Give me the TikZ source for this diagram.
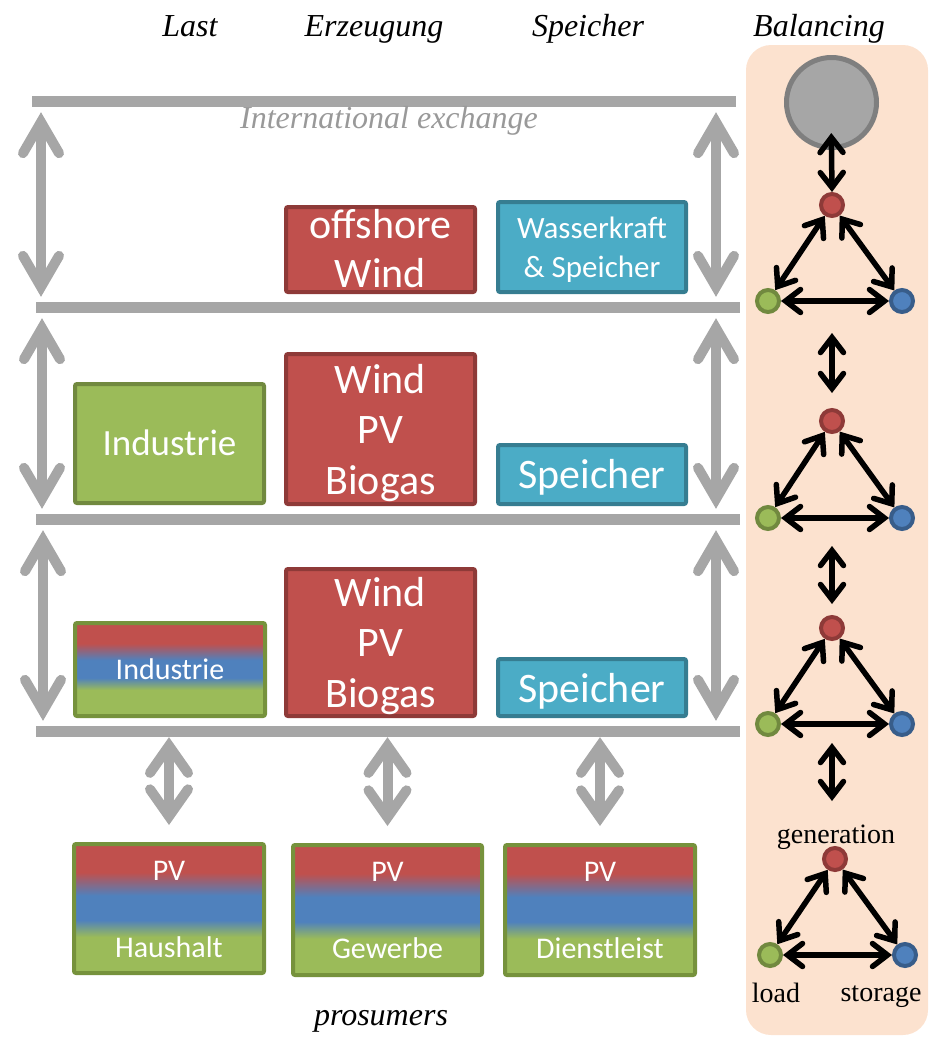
\documentclass[tikz,border=0pt]{standalone}
\usepackage{fontspec}
\setmainfont{Liberation Serif}
\newfontfamily\boxfont{Carlito}
\usetikzlibrary{arrows.meta,calc}

\definecolor{barGray}{HTML}{A6A6A6}
\definecolor{txtGray}{HTML}{999999}
\definecolor{lred}{HTML}{C0504D}
\definecolor{redEdge}{HTML}{8E3A38}
\definecolor{lblue}{HTML}{4F81BD}
\definecolor{blueEdge}{HTML}{385D8A}
\definecolor{lteal}{HTML}{4BACC6}
\definecolor{tealEdge}{HTML}{367D91}
\definecolor{lgreen}{HTML}{9BBB59}
\definecolor{greenEdge}{HTML}{71893F}
\definecolor{mixEdge}{HTML}{76923C}
\definecolor{panelFill}{HTML}{FCE2CF}
\definecolor{hubFill}{HTML}{A6A6A6}
\definecolor{hubEdge}{HTML}{7F7F7F}

% red on top, blue in the middle, green at the bottom
% (a filled path is mapped onto the range 25bp..75bp of the shading)
\pgfdeclareverticalshading{mixfill}{100bp}{%
  color(0bp)=(lgreen); color(39bp)=(lgreen); color(45.5bp)=(lblue);
  color(55bp)=(lblue); color(64bp)=(lred); color(100bp)=(lred)}

\begin{document}
\begin{tikzpicture}[x=1pt,y=-1pt,
  bar/.style={rectangle, fill=barGray, inner sep=0pt, minimum width=704pt, minimum height=11pt},
  gar/.style={draw=barGray, line width=10pt,
    >={Straight Barb[length=31pt,width=36pt,line cap=round,line join=miter]}, <->},
  garshort/.style={draw=barGray, line width=10pt,
    >={Straight Barb[length=27pt,width=38pt,line cap=round,line join=miter]}, <->},
  blk/.style={draw=black, line width=5.5pt,
    >={Straight Barb[length=15pt,width=23pt,line cap=round,line join=miter]}, <->},
  box/.style={rectangle, rounded corners=2pt, line width=4pt, inner sep=0pt},
  redbox/.style={box, fill=lred, draw=redEdge},
  tealbox/.style={box, fill=lteal, draw=tealEdge},
  greenbox/.style={box, fill=lgreen, draw=greenEdge},
  mixbox/.style={box, shading=mixfill, draw=mixEdge},
  lbl/.style={text=white, inner sep=0pt, anchor=base},
  big/.style={lbl, font=\boxfont\fontsize{42}{50}\selectfont},
  mid/.style={lbl, font=\boxfont\fontsize{31}{37}\selectfont},
  small/.style={lbl, font=\boxfont\fontsize{30}{36}\selectfont},
  head/.style={inner sep=0pt, anchor=base, font=\itshape\fontsize{32}{38}\selectfont},
  role/.style={inner sep=0pt, anchor=base, font=\fontsize{28}{33}\selectfont},
  hub/.style={circle, minimum size=90pt, inner sep=0pt, line width=5pt, fill=hubFill, draw=hubEdge},
  dot/.style={circle, minimum size=22pt, inner sep=0pt, line width=4pt},
  gdot/.style={dot, fill=lred, draw=redEdge},
  ldot/.style={dot, fill=lgreen, draw=greenEdge},
  sdot/.style={dot, fill=lblue, draw=blueEdge}]

\useasboundingbox (0,0) rectangle (930,1037);

% balancing column background
\fill[panelFill, rounded corners=25pt] (746,45) rectangle (928,1035);

% column headings
\node[head] (hLast) at (190,36) {Last};
\node[head] (hErz) at (374,36) {Erzeugung};
\node[head] (hSp) at (588,36) {Speicher};
\node[head] (hBal) at (819,36) {Balancing};

% grid levels
\node[bar] (bar1) at (384,101.5) {};
\node[bar] (bar2) at (388,307.5) {};
\node[bar] (bar3) at (388,519.5) {};
\node[bar] (bar4) at (388,731.5) {};
\node[head, text=txtGray] (intl) at (389,128) {International exchange};

% exchange between levels
\coordinate (L1) at (41,0);
\coordinate (L2) at (42,0);
\coordinate (L3) at (43,0);
\coordinate (R) at (716,0);
\draw[gar, shorten <=5pt, shorten >=5pt] (bar1.south -| L1) -- (bar2.north -| L1);
\draw[gar, shorten <=5pt, shorten >=5pt] (bar2.south -| L2) -- (bar3.north -| L2);
\draw[gar, shorten <=5pt, shorten >=5pt] (bar3.south -| L3) -- (bar4.north -| L3);
\draw[gar, shorten <=5pt, shorten >=5pt] (bar1.south -| R) -- (bar2.north -| R);
\draw[gar, shorten <=5pt, shorten >=5pt] (bar2.south -| R) -- (bar3.north -| R);
\draw[gar, shorten <=5pt, shorten >=5pt] (bar3.south -| R) -- (bar4.north -| R);

% top level
\node[redbox, minimum width=189pt, minimum height=85pt] (offW) at (380.5,249.5) {};
\node[big] (offW1) at (380.5,238) {offshore};
\node[big] (offW2) at (380.5,287) {Wind};
\node[tealbox, minimum width=188pt, minimum height=90pt] (wass) at (592,247) {};
\node[mid] (wass1) at (592,238) {Wasserkraft};
\node[mid] (wass2) at (592,277) {\& Speicher};

% middle level
\node[greenbox, minimum width=189pt, minimum height=119pt] (indG) at (169.5,443.5) {};
\node[lbl, font=\boxfont\fontsize{37}{44}\selectfont] (indG1) at (169.5,455) {Industrie};
\node[redbox, minimum width=189pt, minimum height=150pt] (gen1) at (380.5,429) {};
\node[big] (gen1a) at (380.5,393) {Wind};
\node[big] (gen1b) at (380.5,443) {PV};
\node[big] (gen1c) at (380.5,494) {Biogas};
\node[tealbox, minimum width=188pt, minimum height=59pt] (sp1) at (592,474.5) {};
\node[big] (sp1a) at (592,488) {Speicher};

% lower level
\node[mixbox, minimum width=190pt, minimum height=93pt] (indM) at (170,669.5) {};
\node[small] (indM1) at (170,679) {Industrie};
\node[redbox, minimum width=189pt, minimum height=147pt] (gen2) at (380.5,642.5) {};
\node[big] (gen2a) at (380.5,606) {Wind};
\node[big] (gen2b) at (380.5,656) {PV};
\node[big] (gen2c) at (380.5,707) {Biogas};
\node[tealbox, minimum width=188pt, minimum height=57pt] (sp2) at (592,687.5) {};
\node[big] (sp2a) at (592,702) {Speicher};

% prosumers
\node[mixbox, minimum width=190pt, minimum height=129pt] (hh) at (169,908.5) {};
\node[small] (hh1) at (169,880.5) {PV};
\node[small] (hh2) at (169,957) {Haushalt};
\node[mixbox, minimum width=189pt, minimum height=130pt] (gw) at (387.5,910) {};
\node[small] (gw1) at (387.5,881.5) {PV};
\node[small] (gw2) at (387.5,958) {Gewerbe};
\node[mixbox, minimum width=190pt, minimum height=130pt] (dl) at (600,910) {};
\node[small] (dl1) at (600,881.5) {PV};
\node[small] (dl2) at (600,958) {Dienstleist};
\node[head] (pros) at (381,1025) {prosumers};

\draw[garshort, shorten >=17pt] (bar4.south -| hh.north) -- (hh.north);
\draw[garshort, shorten >=17pt] (bar4.south -| gw.north) -- (gw.north);
\draw[garshort, shorten >=17pt] (bar4.south -| dl.north) -- (dl.north);

% balancing hierarchy
\node[hub] (hubN) at (831.5,102.5) {};
\node[gdot] (g1) at (832,205) {};
\node[ldot] (l1) at (768,301) {};
\node[sdot] (s1) at (902,301) {};
\node[gdot] (g2) at (832,421) {};
\node[ldot] (l2) at (768,518) {};
\node[sdot] (s2) at (902,518) {};
\node[gdot] (g3) at (832,628) {};
\node[ldot] (l3) at (768,724) {};
\node[sdot] (s3) at (902,724) {};
\node[gdot] (g4) at (835,859) {};
\node[ldot] (l4) at (770,955) {};
\node[sdot] (s4) at (905,955) {};

\node[role] (rGen) at (836,843) {generation};
\node[role] (rLoad) at (776,1002) {load};
\node[role] (rSto) at (881,1001) {storage};

\draw[blk, shorten <=-17pt] (hubN.south) -- (g1.north);
\foreach \i in {1,2,3,4}{
  \draw[blk] (g\i) -- (l\i);
  \draw[blk] (g\i) -- (s\i);
  \draw[blk] (l\i) -- (s\i);
}
\coordinate (b1) at (832,333);
\coordinate (b2) at (832,393);
\coordinate (c1) at (832,546);
\coordinate (c2) at (832,604);
\coordinate (d1) at (832,743);
\coordinate (d2) at (832,801);
\draw[blk] (b1) -- (b2);
\draw[blk] (c1) -- (c2);
\draw[blk] (d1) -- (d2);
\end{tikzpicture}
\end{document}
